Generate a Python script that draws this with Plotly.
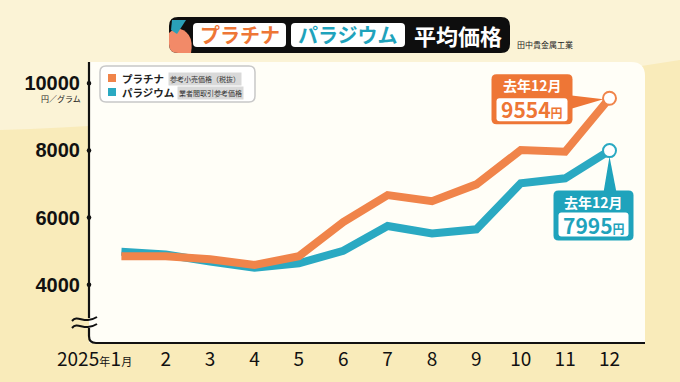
import plotly.graph_objects as go

# ---------------- data ----------------
months = [1, 2, 3, 4, 5, 6, 7, 8, 9, 10, 11, 12]
month_labels = ["1<span style='font-size:11px'>月</span>",
                "2", "3", "4", "5", "6", "7", "8", "9", "10", "11", "12"]
year_label = "2025<span style='font-size:11px'>年</span>"
platinum = [4850, 4850, 4760, 4590, 4850, 5870, 6670, 6490, 6990, 8010, 7960, 9554]
palladium = [4980, 4900, 4690, 4510, 4640, 5010, 5750, 5530, 5650, 7020, 7170, 7995]
y_ticks = [4000, 6000, 8000, 10000]
y_tick_labels = ["4000", "6000", "8000", "10000"]
series_names = ["プラチナ", "パラジウム"]
series_notes = ["参考小売価格（税抜）", "業者間取引参考価格"]
callout_label = "去年12月"

ORANGE = "#F0844A"
TEAL = "#2AA9C2"
ORANGE_D = "#EE7636"
TEAL_D = "#1FA3BC"
JP = "Noto Sans CJK JP"

W, H = 680, 382
L, R, T, B = 89, 645, 62, 343


def px(x):
    return (x - L) / (R - L)


def py(y):
    return (B - y) / (B - T)


def rr_paper(x0, y0, x1, y1, r, corners=(1, 1, 1, 1)):
    """rounded rect in pixel coords (y down) -> paper path. corners: tl,tr,br,bl"""
    tl, tr, br, bl = [r * c for c in corners]
    p = lambda x, y: f"{px(x):.5f},{py(y):.5f}"
    s = f"M{p(x0 + tl, y0)} L{p(x1 - tr, y0)} Q{p(x1, y0)} {p(x1, y0 + tr)} "
    s += f"L{p(x1, y1 - br)} Q{p(x1, y1)} {p(x1 - br, y1)} "
    s += f"L{p(x0 + bl, y1)} Q{p(x0, y1)} {p(x0, y1 - bl)} "
    s += f"L{p(x0, y0 + tl)} Q{p(x0, y0)} {p(x0 + tl, y0)} Z"
    return s


def rr_pix(x0, y0, x1, y1, r):
    """rounded rect in pixel offsets (y up), y0 = top (larger)"""
    return (f"M{x0 + r},{y0} L{x1 - r},{y0} Q{x1},{y0} {x1},{y0 - r} "
            f"L{x1},{y1 + r} Q{x1},{y1} {x1 - r},{y1} L{x0 + r},{y1} Q{x0},{y1} {x0},{y1 + r} "
            f"L{x0},{y0 - r} Q{x0},{y0} {x0 + r},{y0} Z")


fig = go.Figure()
fig.add_trace(go.Scatter(x=months, y=palladium, mode="lines", line=dict(color=TEAL, width=8),
                         hoverinfo="skip", showlegend=False))
fig.add_trace(go.Scatter(x=months, y=platinum, mode="lines", line=dict(color=ORANGE, width=8),
                         hoverinfo="skip", showlegend=False))
fig.add_trace(go.Scatter(x=[months[-1], months[-1]], y=[platinum[-1], palladium[-1]], mode="markers",
                         marker=dict(size=13, color="white", line=dict(color=[ORANGE, TEAL], width=2)),
                         hoverinfo="skip", showlegend=False, cliponaxis=False))

shapes = []
# background light regions
shapes.append(dict(type="path", xref="paper", yref="paper", layer="below",
                   path=f"M{px(0)},{py(0)} L{px(680)},{py(0)} L{px(680)},{py(60)} "
                        f"Q{px(300)},{py(120)} {px(0)},{py(130)} Z",
                   fillcolor="#FBF3D6", line=dict(width=0)))
# white panel
shapes.append(dict(type="path", xref="paper", yref="paper", layer="below",
                   path=rr_paper(L, T, R, B, 14, (0, 1, 0, 0)),
                   fillcolor="#FFFEF7", line=dict(width=0)))
# axis lines
ax_top = (f"M{px(L)},{py(T)} L{px(L)},{py(318)}")
ax_bot = (f"M{px(L)},{py(328)} L{px(L)},{py(B - 7)} Q{px(L)},{py(B)} {px(L + 7)},{py(B)} L{px(R)},{py(B)}")
for pth in (ax_top, ax_bot):
    shapes.append(dict(type="path", xref="paper", yref="paper", path=pth,
                       line=dict(color="#111111", width=2.2)))
# break waves
for yy in (319, 326):
    pth = (f"M{px(72)},{py(yy + 2)} C{px(78)},{py(yy - 5)} {px(84)},{py(yy + 6)} {px(97)},{py(yy - 2)}")
    shapes.append(dict(type="path", xref="paper", yref="paper", path=pth,
                       line=dict(color="#111111", width=2)))
# tick dots
for v in y_ticks:
    shapes.append(dict(type="circle", xref="paper", yref="y", ysizemode="pixel", yanchor=v,
                       x0=px(L - 2.3), x1=px(L + 2.3), y0=-2.3, y1=2.3,
                       fillcolor="#111111", line=dict(width=0)))

# title banner
shapes.append(dict(type="path", xref="paper", yref="paper", path=rr_paper(169, 17, 510, 53, 9),
                   fillcolor="#0E0E0E", line=dict(width=0)))
shapes.append(dict(type="path", xref="paper", yref="paper",
                   path=f"M{px(175)},{py(28)} Q{px(195)},{py(30)} {px(191)},{py(53)} L{px(178)},{py(53)} "
                        f"Q{px(169)},{py(53)} {px(169)},{py(44)} L{px(169)},{py(33)} Z",
                   fillcolor="#F28A68", line=dict(width=0)))
shapes.append(dict(type="path", xref="paper", yref="paper",
                   path=f"M{px(172)},{py(20)} L{px(186)},{py(20)} L{px(177)},{py(34)} L{px(171)},{py(30)} Z",
                   fillcolor="#2AA0B8", line=dict(width=0)))
shapes.append(dict(type="path", xref="paper", yref="paper", path=rr_paper(193, 23, 286, 47, 4),
                   fillcolor="white", line=dict(width=0)))
shapes.append(dict(type="path", xref="paper", yref="paper", path=rr_paper(291, 23, 405, 47, 4),
                   fillcolor="white", line=dict(width=0)))

# legend
shapes.append(dict(type="path", xref="paper", yref="paper", path=rr_paper(100, 66, 255, 102, 6),
                   fillcolor="white", line=dict(color="#C8C8C8", width=1.5)))
for i, col in enumerate([ORANGE, TEAL]):
    y0 = 74 + i * 14
    shapes.append(dict(type="rect", xref="paper", yref="paper", x0=px(108), x1=px(116),
                       y0=py(y0), y1=py(y0 + 8), fillcolor=col, line=dict(width=0)))

# callouts (anchored to the last data points, pixel offsets)
x_last = months[-1]
shapes.append(dict(type="path", xref="x", yref="y", xsizemode="pixel", ysizemode="pixel",
                   xanchor=x_last, yanchor=platinum[-1], path=rr_pix(-118, 24, -37, -26, 5),
                   fillcolor=ORANGE_D, line=dict(width=0)))
shapes.append(dict(type="path", xref="x", yref="y", xsizemode="pixel", ysizemode="pixel",
                   xanchor=x_last, yanchor=platinum[-1], path="M-40,3 L-6,-1 L-40,-11 Z",
                   fillcolor=ORANGE_D, line=dict(width=0)))
shapes.append(dict(type="path", xref="x", yref="y", xsizemode="pixel", ysizemode="pixel",
                   xanchor=x_last, yanchor=platinum[-1], path=rr_pix(-113, 0, -42, -23, 3),
                   fillcolor="white", line=dict(width=0)))
shapes.append(dict(type="path", xref="x", yref="y", xsizemode="pixel", ysizemode="pixel",
                   xanchor=x_last, yanchor=palladium[-1], path=rr_pix(-56, -40, 24, -90, 5),
                   fillcolor=TEAL_D, line=dict(width=0)))
shapes.append(dict(type="path", xref="x", yref="y", xsizemode="pixel", ysizemode="pixel",
                   xanchor=x_last, yanchor=palladium[-1], path="M-6,-42 L0,-6 L7,-42 Z",
                   fillcolor=TEAL_D, line=dict(width=0)))
shapes.append(dict(type="path", xref="x", yref="y", xsizemode="pixel", ysizemode="pixel",
                   xanchor=x_last, yanchor=palladium[-1], path=rr_pix(-51, -62, 19, -86, 3),
                   fillcolor="white", line=dict(width=0)))

ann = []


def pa(x, y, text, size, color, xanchor="center", weight="normal", **kw):
    ann.append(dict(xref="paper", yref="paper", x=px(x), y=py(y), text=text, showarrow=False,
                    xanchor=xanchor, yanchor="middle",
                    font=dict(family=JP, size=size, color=color, weight=weight), **kw))


# banner texts
pa(239.5, 35, series_names[0], 20, ORANGE_D, weight="bold")
pa(348, 35, series_names[1], 20, TEAL_D, weight="bold")
pa(458, 35, "平均価格", 22, "white", weight="bold")
pa(515, 44, "田中貴金属工業", 8, "#222222", xanchor="left")
# unit
pa(83, 98, "円／グラム", 8, "#222222", xanchor="right")
# legend texts
for i in range(2):
    yc = 78 + i * 14
    pa(120, yc, series_names[i], 10.5, "#222222", xanchor="left", weight="bold")
    pa(168 if i == 0 else 177, yc + 0.5, series_notes[i], 7, "#333333", xanchor="left",
       bgcolor="#D9D9D9", borderpad=1)
# year prefix of the first tick
ann.append(dict(xref="x", yref="paper", x=months[0], y=py(357), xshift=-9, text=year_label,
                showarrow=False, xanchor="right", yanchor="middle",
                font=dict(family="Liberation Sans Narrow, " + JP, size=19, color="#111111")))
# callout texts
ann.append(dict(xref="x", yref="y", x=x_last, y=platinum[-1], xshift=-77.5, yshift=13, text=callout_label,
                showarrow=False, font=dict(family=JP, size=14, color="white", weight="bold")))
ann.append(dict(xref="x", yref="y", x=x_last, y=platinum[-1], xshift=-77.5, yshift=-11,
                text=f"{platinum[-1]}<span style='font-size:12px'>円</span>", showarrow=False,
                font=dict(family=JP, size=21, color=ORANGE_D, weight="bold")))
ann.append(dict(xref="x", yref="y", x=x_last, y=palladium[-1], xshift=-16, yshift=-51, text=callout_label,
                showarrow=False, font=dict(family=JP, size=14, color="white", weight="bold")))
ann.append(dict(xref="x", yref="y", x=x_last, y=palladium[-1], xshift=-16, yshift=-74,
                text=f"{palladium[-1]}<span style='font-size:12px'>円</span>", showarrow=False,
                font=dict(family=JP, size=21, color=TEAL_D, weight="bold")))

fig.update_layout(
    width=W, height=H, margin=dict(l=L, r=W - R, t=T, b=H - B, autoexpand=False),
    paper_bgcolor="#F9EBBA", plot_bgcolor="rgba(0,0,0,0)",
    shapes=shapes, annotations=ann, showlegend=False,
    xaxis=dict(range=[0.27, 12.8], tickvals=months, ticktext=month_labels, showgrid=False,
               zeroline=False, showline=False, ticks="", ticklabelstandoff=3, tickangle=0,
               automargin=False,
               tickfont=dict(family="Liberation Sans Narrow, " + JP, size=19, color="#111111")),
    yaxis=dict(range=[2265, 10634], tickvals=y_ticks, ticktext=y_tick_labels, showgrid=False,
               zeroline=False, showline=False, automargin=False,
               ticks="", ticklabelstandoff=8,
               tickfont=dict(family="Liberation Sans, Roboto", size=20, color="#111111", weight="bold")),
)
fig.write_html("out.html", config={"displayModeBar": False},
               post_script="document.body.style.margin='0';document.body.style.overflow='hidden';")
